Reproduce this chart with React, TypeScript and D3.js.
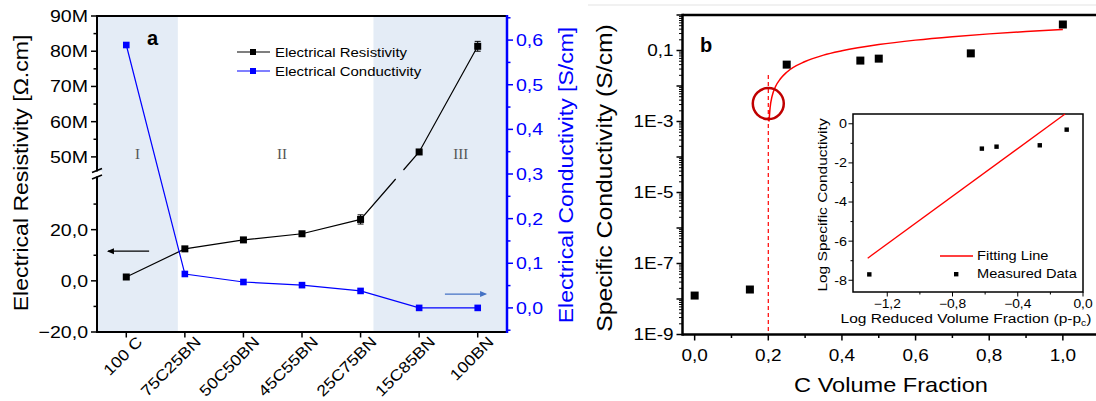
import React from 'react';
import * as d3 from 'd3';

// ---------- Panel a data ----------
const categories = ['100 C', '75C25BN', '50C50BN', '45C55BN', '25C75BN', '15C85BN', '100BN'];
const resistivity = [1.5, 12.5, 16, 18.4, 24, 51.4e6, 81.4e6];
const resistivityErr = [0, 0, 0, 0, 1.8, 0, 1.4e6];
const conductivity = [0.589, 0.076, 0.058, 0.051, 0.038, 0.0, 0.0];
const lowMajor = [-20, 0, 20];
const lowMinor = [-10, 10, 30];
const highMajorM = [50, 60, 70, 80, 90];
const highMinorM = [55, 65, 75, 85];
const rightMajor = [0, 0.1, 0.2, 0.3, 0.4, 0.5, 0.6];
const rightMinor = [-0.05, 0.05, 0.15, 0.25, 0.35, 0.45, 0.55, 0.65];
const regionLabels = ['I', 'II', 'III'];

// ---------- Panel b data ----------
const volFrac = [0, 0.15, 0.25, 0.45, 0.5, 0.75, 1.0];
const specCond = [1.25e-8, 1.85e-8, 0.04, 0.052, 0.059, 0.083, 0.54];
const fitP = [0.202, 0.205, 0.21, 0.22, 0.233, 0.25, 0.3, 0.35, 0.4, 0.5, 0.6, 0.7, 0.8, 0.9, 1.0];
const fitS = [0.001, 0.0025, 0.005, 0.0098, 0.016, 0.0245, 0.049, 0.074, 0.098, 0.147, 0.196, 0.245, 0.294, 0.343, 0.392];
const percThreshold = 0.2;
const bXTicks = [0, 0.2, 0.4, 0.6, 0.8, 1.0];
const bXMinor = [0.1, 0.3, 0.5, 0.7, 0.9];
const bYLabelTicks = [1e-9, 1e-7, 1e-5, 1e-3, 1e-1];
const bYLabels = ['1E-9', '1E-7', '1E-5', '1E-3', '0,1'];

// ---------- Inset data ----------
const logReduced = [-1.31, -0.62, -0.53, -0.265, -0.1];
const logCond = [-7.7, -1.27, -1.17, -1.1, -0.3];
const insetFitX = [-1.32, -0.11];
const insetFitY = [-6.87, 0.5];
const insetXTicks = [-1.2, -0.8, -0.4, 0.0];
const insetXMinor = [-1.0, -0.6, -0.2];
const insetYTicks = [0, -2, -4, -6, -8];
const insetYMinor = [-1, -3, -5, -7];

const FONT = "'Liberation Sans', Arial, sans-serif";
const SX = 1.15;
const comma = (v: number, d = 1) => d3.format(`.${d}f`)(v).replace('.', ',');

function T(props: any) {
  const { x, y, rot = 0, sx = SX, anchor = 'start', size, fill = '#000', dy, weight, children } = props;
  return (
    <text transform={`translate(${x},${y}) rotate(${rot}) scale(${sx},1)`} textAnchor={anchor} fontSize={size}
      fill={fill} dy={dy} fontWeight={weight}>{children}</text>
  );
}

export default function App() {
  // ---- Panel a scales ----
  const aL = 97, aR = 507, aT = 16, aB = 332;
  const xA = d3.scalePoint<string>().domain(categories).range([aL, aR]).padding(0.5);
  const step = xA.step();
  const xIdx = d3.scaleLinear().domain([0, 1]).range([xA(categories[0])!, xA(categories[0])! + step]);
  const yLow = d3.scaleLinear().domain([-20, 40]).range([aB, 178.5]);
  const yHigh = d3.scaleLinear().domain([45, 90]).range([174.5, aT]);
  const yRes = (v: number) => (v > 1000 ? yHigh(v / 1e6) : yLow(v));
  const yR = d3.scaleLinear().domain([-0.054, 0.654]).range([aB, aT]);
  const blue = '#0000ff';

  const resPts = categories.map((c, i) => [xA(c)!, yRes(resistivity[i])] as [number, number]);
  const conPts = categories.map((c, i) => [xA(c)!, yR(conductivity[i])] as [number, number]);
  const line = d3.line();

  const resSegs: [number, number][][] = [];
  let cur: [number, number][] = [resPts[0]];
  for (let i = 1; i < resPts.length; i++) {
    const a = resPts[i - 1], b = resPts[i];
    const lowA = resistivity[i - 1] < 1000, lowB = resistivity[i] < 1000;
    if (lowA && !lowB) {
      const at = (y: number) => { const t = (y - a[1]) / (b[1] - a[1]); return [a[0] + t * (b[0] - a[0]), y] as [number, number]; };
      cur.push(at(179));
      resSegs.push(cur);
      cur = [at(170), b];
    } else cur.push(b);
  }
  resSegs.push(cur);

  // ---- Panel b scales ----
  const bL = 682.5, bR = 1096, bT = 15, bB = 334.5;
  const xB = d3.scaleLinear().domain([-0.033, 1.09]).range([bL, bR]);
  const yB = d3.scaleLog().domain([1e-9, 1]).range([bB, bT]);
  const decades = d3.range(-9, 1).map((e) => Math.pow(10, e));
  const minorLog: number[] = [];
  for (let e = -9; e < 0; e++) for (let m = 2; m <= 9; m++) minorLog.push(m * Math.pow(10, e));
  const fitLine = d3.line<number>().x((_, i) => xB(fitP[i])).y((_, i) => yB(fitS[i])).curve(d3.curveMonotoneX);

  // ---- Inset scales ----
  const iL = 853, iR = 1083, iT = 114, iB = 292;
  const xI = d3.scaleLinear().domain([-1.41, 0]).range([iL, iR]);
  const yI = d3.scaleLinear().domain([-8.6, 0.5]).range([iB, iT]);

  return (
    <svg width={1096} height={401} style={{ position: 'absolute', left: 0, top: 0, background: '#fff' }} fontFamily={FONT}>
      {/* ================= Panel a ================= */}
      <rect x={aL} y={aT} width={xIdx(0.88) - aL} height={aB - aT} fill="#e4ecf6" />
      <rect x={xIdx(4.22)} y={aT} width={aR - xIdx(4.22)} height={aB - aT} fill="#e4ecf6" />
      {regionLabels.map((r, i) => (
        <text key={r} x={xIdx([0.19, 2.66, 5.71][i])} y={159} textAnchor="middle" fontFamily="'Liberation Serif', 'Times New Roman', serif" fontSize={15} fill="#555">{r}</text>
      ))}
      {/* arrows */}
      <line x1={xIdx(0.39)} x2={xIdx(-0.31)} y1={yLow(11.6)} y2={yLow(11.6)} stroke="#000" strokeWidth={1.3} />
      <path d={`M${xIdx(-0.33)},${yLow(11.6)} l7,-3 l0,6 z`} fill="#000" />
      <line x1={xIdx(5.44)} x2={xIdx(6.13)} y1={yR(0.031)} y2={yR(0.031)} stroke="#4472c4" strokeWidth={1.3} />
      <path d={`M${xIdx(6.16)},${yR(0.031)} l-7,-3 l0,6 z`} fill="#4472c4" />

      {resSegs.map((s, i) => <path key={i} d={line(s)!} fill="none" stroke="#000" strokeWidth={1.2} />)}
      {resPts.map((p, i) => resistivityErr[i] > 0 && (
        <g key={i} stroke="#000" strokeWidth={1}>
          <line x1={p[0]} x2={p[0]} y1={yRes(resistivity[i] + resistivityErr[i])} y2={yRes(resistivity[i] - resistivityErr[i])} />
          <line x1={p[0] - 3} x2={p[0] + 3} y1={yRes(resistivity[i] + resistivityErr[i])} y2={yRes(resistivity[i] + resistivityErr[i])} />
          <line x1={p[0] - 3} x2={p[0] + 3} y1={yRes(resistivity[i] - resistivityErr[i])} y2={yRes(resistivity[i] - resistivityErr[i])} />
        </g>
      ))}
      {resPts.map((p, i) => <rect key={i} x={p[0] - 3.5} y={p[1] - 3.5} width={7} height={7} fill="#000" />)}
      <path d={line(conPts)!} fill="none" stroke={blue} strokeWidth={1.2} />
      {conPts.map((p, i) => <rect key={i} x={p[0] - 3.3} y={p[1] - 3.3} width={6.6} height={6.6} fill={blue} />)}

      {/* frame */}
      <line x1={aL} x2={aR} y1={aT} y2={aT} stroke="#000" strokeWidth={2} />
      <line x1={aL} x2={aR} y1={aB} y2={aB} stroke="#000" strokeWidth={2} />
      <line x1={aL} x2={aL} y1={aT - 1} y2={aB + 1} stroke="#000" strokeWidth={2} />
      {lowMajor.map((v) => (
        <g key={v}>
          <line x1={aL - 6} x2={aL} y1={yLow(v)} y2={yLow(v)} stroke="#000" strokeWidth={1.5} />
          <T x={aL - 9} y={yLow(v)} dy="0.35em" anchor="end" size={17}>{comma(v)}</T>
        </g>
      ))}
      {lowMinor.map((v) => <line key={v} x1={aL - 3.5} x2={aL} y1={yLow(v)} y2={yLow(v)} stroke="#000" strokeWidth={1.5} />)}
      {highMajorM.map((v) => (
        <g key={v}>
          <line x1={aL - 6} x2={aL} y1={yHigh(v)} y2={yHigh(v)} stroke="#000" strokeWidth={1.5} />
          <T x={aL - 9} y={yHigh(v)} dy="0.35em" anchor="end" size={17}>{`${v}M`}</T>
        </g>
      ))}
      {highMinorM.map((v) => <line key={v} x1={aL - 3.5} x2={aL} y1={yHigh(v)} y2={yHigh(v)} stroke="#000" strokeWidth={1.5} />)}
      <rect x={aL - 5} y={171.5} width={10} height={5} fill="#fff" />
      <line x1={aL - 5} x2={aL + 5} y1={172.5} y2={168.5} stroke="#000" strokeWidth={1.6} />
      <line x1={aL - 5} x2={aL + 5} y1={179} y2={175} stroke="#000" strokeWidth={1.6} />
      {categories.map((c) => (
        <g key={c}>
          <line x1={xA(c)!} x2={xA(c)!} y1={aB} y2={aB + 5.5} stroke="#000" strokeWidth={1.5} />
          <T x={xA(c)! + 17} y={aB + 11} rot={-45} anchor="end" size={15.5}>{c}</T>
        </g>
      ))}
      <line x1={aR} x2={aR} y1={aT - 1} y2={aB + 1} stroke={blue} strokeWidth={2.5} />
      {rightMajor.map((v) => (
        <g key={v}>
          <line x1={aR} x2={aR + 6} y1={yR(v)} y2={yR(v)} stroke={blue} strokeWidth={1.5} />
          <T x={aR + 9} y={yR(v)} dy="0.35em" size={17} fill={blue}>{comma(v)}</T>
        </g>
      ))}
      {rightMinor.filter((v) => yR(v) >= aT && yR(v) <= aB).map((v) => (
        <line key={v} x1={aR} x2={aR + 3.5} y1={yR(v)} y2={yR(v)} stroke={blue} strokeWidth={1.5} />
      ))}
      <T x={28} y={173} rot={-90} anchor="middle" size={20}>Electrical Resistivity [Ω.cm]</T>
      <T x={573} y={175} rot={-90} anchor="middle" size={20} fill={blue}>Electrical Conductivity [S/cm]</T>
      <T x={147} y={45} size={20} sx={1} weight="bold">a</T>
      <line x1={237} x2={270} y1={52} y2={52} stroke="#000" strokeWidth={1.2} />
      <rect x={250} y={49} width={6} height={6} fill="#000" />
      <T x={275} y={52} dy="0.35em" size={13}>Electrical Resistivity</T>
      <line x1={237} x2={270} y1={71} y2={71} stroke={blue} strokeWidth={1.2} />
      <rect x={250} y={68} width={6} height={6} fill={blue} />
      <T x={275} y={71} dy="0.35em" size={13}>Electrical Conductivity</T>

      {/* ================= Panel b ================= */}
      <line x1={588} x2={1096} y1={5} y2={5} stroke="#ececec" strokeWidth={1.5} />
      <line x1={xB(percThreshold)} x2={xB(percThreshold)} y1={75} y2={bB} stroke="#ff0000" strokeWidth={1.2} strokeDasharray="4,3" />
      <path d={fitLine(fitP)!} fill="none" stroke="#ff0000" strokeWidth={1.5} />
      <circle cx={xB(percThreshold)} cy={yB(0.0032)} r={15.5} fill="none" stroke="#c00000" strokeWidth={2.5} />
      {volFrac.map((v, i) => <rect key={i} x={xB(v) - 4} y={yB(specCond[i]) - 4} width={8} height={8} fill="#000" />)}

      <line x1={bL} x2={bR} y1={bT} y2={bT} stroke="#000" strokeWidth={2.5} />
      <line x1={bL} x2={bR} y1={bB} y2={bB} stroke="#000" strokeWidth={2.5} />
      <line x1={bL} x2={bL} y1={bT - 1.2} y2={bB + 1.2} stroke="#000" strokeWidth={2.5} />
      {decades.map((v) => <line key={v} x1={bL - 6} x2={bL} y1={yB(v)} y2={yB(v)} stroke="#000" strokeWidth={1.5} />)}
      {minorLog.map((v, i) => <line key={i} x1={bL - 3.5} x2={bL} y1={yB(v)} y2={yB(v)} stroke="#000" strokeWidth={1} />)}
      {bYLabelTicks.map((v, i) => (
        <T key={v} x={bL - 9} y={yB(v)} dy="0.35em" anchor="end" size={16.5}>{bYLabels[i]}</T>
      ))}
      {bXTicks.map((v) => (
        <g key={v}>
          <line x1={xB(v)} x2={xB(v)} y1={bB} y2={bB + 6} stroke="#000" strokeWidth={1.5} />
          <T x={xB(v)} y={bB + 26} anchor="middle" size={16.5}>{comma(v)}</T>
        </g>
      ))}
      {bXMinor.map((v) => <line key={v} x1={xB(v)} x2={xB(v)} y1={bB} y2={bB + 3.5} stroke="#000" strokeWidth={1.5} />)}
      <T x={612} y={178} rot={-90} anchor="middle" size={21.5}>Specific Conductivity (S/cm)</T>
      <T x={891} y={392} anchor="middle" size={20.5}>C Volume Fraction</T>
      <T x={700} y={52} size={20} sx={1} weight="bold">b</T>

      {/* ================= Inset ================= */}
      <rect x={iL} y={iT} width={iR - iL} height={iB - iT} fill="#fff" stroke="#000" strokeWidth={1.5} />
      <line x1={xI(insetFitX[0])} x2={xI(insetFitX[1])} y1={yI(insetFitY[0])} y2={yI(insetFitY[1])} stroke="#ff0000" strokeWidth={1.3} />
      {logReduced.map((v, i) => <rect key={i} x={xI(v) - 2.2} y={yI(logCond[i]) - 2.2} width={4.4} height={4.4} fill="#000" />)}
      {insetXTicks.map((v) => (
        <g key={v}>
          <line x1={xI(v)} x2={xI(v)} y1={iB} y2={iB + 4.5} stroke="#000" strokeWidth={1} />
          <T x={xI(v)} y={iB + 16} anchor="middle" size={12}>{comma(v)}</T>
        </g>
      ))}
      {insetXMinor.map((v) => <line key={v} x1={xI(v)} x2={xI(v)} y1={iB} y2={iB + 2.5} stroke="#000" strokeWidth={1} />)}
      {insetYTicks.map((v) => (
        <g key={v}>
          <line x1={iL - 4.5} x2={iL} y1={yI(v)} y2={yI(v)} stroke="#000" strokeWidth={1} />
          <T x={iL - 6} y={yI(v)} dy="0.35em" anchor="end" size={12.5}>{`${v}`}</T>
        </g>
      ))}
      {insetYMinor.map((v) => <line key={v} x1={iL - 2.5} x2={iL} y1={yI(v)} y2={yI(v)} stroke="#000" strokeWidth={1} />)}
      <T x={827} y={205} rot={-90} anchor="middle" size={13.5}>Log Specific Conductivity</T>
      <T x={966} y={323} anchor="middle" size={13.5}>
        Log Reduced Volume Fraction (p-p<tspan fontSize={9} dy={3}>c</tspan><tspan dy={-3}>)</tspan>
      </T>
      <line x1={940} x2={973} y1={256} y2={256} stroke="#ff0000" strokeWidth={1.3} />
      <T x={977} y={256} dy="0.35em" size={12.7}>Fitting Line</T>
      <rect x={954} y={272} width={4.4} height={4.4} fill="#000" />
      <T x={977} y={274} dy="0.35em" size={12.7}>Measured Data</T>
    </svg>
  );
}
